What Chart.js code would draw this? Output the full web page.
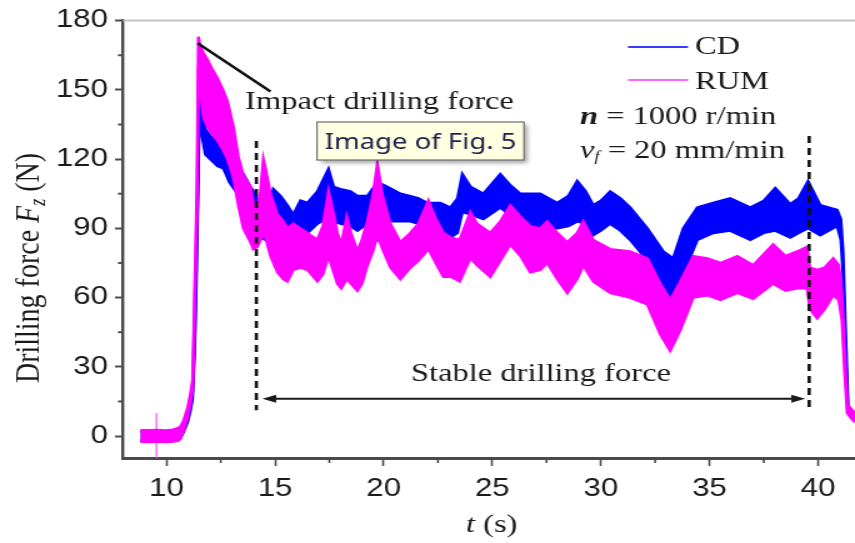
<!DOCTYPE html>
<html><head><meta charset="utf-8">
<script src="https://cdn.jsdelivr.net/npm/chart.js@4.4.0/dist/chart.umd.min.js"></script>
<style>
html,body{margin:0;padding:0;background:#fff;overflow:hidden;}
#wrap{width:684px;height:543px;transform:scaleX(1.25);transform-origin:0 0;}
</style></head><body>
<div id="wrap"><canvas id="c" width="684" height="543"></canvas></div>
<script>
// ---- data ----
const X_TICKS = [10, 15, 20, 25, 30, 35, 40];
const Y_TICKS = [0, 30, 60, 90, 120, 150, 180];
const X_MINOR = [12.5, 17.5, 22.5, 27.5, 32.5, 37.5];
const Y_MINOR = [15, 45, 75, 105, 135, 165];
const SERIES = ['CD', 'RUM'];

const RUM_t = [8.80,9.2,9.6,10.0,10.3,10.55,10.64,10.80,10.97,11.10,11.20,11.26,11.33,11.41,11.47,11.55,11.70,11.89,12.10,12.35,12.60,12.81,13.08,13.31,13.54,13.87,14.00,14.19,14.33,14.46,14.56,14.79,15.11,15.38,15.57,15.84,16.17,16.49,16.95,17.20,17.46,17.70,17.87,18.05,18.30,18.50,18.79,19.00,19.25,19.50,19.71,19.95,20.31,20.77,21.23,21.60,22.06,22.40,22.75,23.10,23.50,23.99,24.30,24.91,25.37,25.83,26.30,26.75,27.21,27.53,28.00,28.45,28.91,29.19,29.65,30.43,31.35,32.14,32.74,33.19,33.66,34.25,34.90,35.50,36.28,37.01,37.93,38.50,39.04,39.50,39.62,39.96,40.30,40.70,40.95,41.10,41.22,41.34,41.50,41.70];
const RUM_upper = [2.5,2.5,2.6,2.4,2.8,3.5,4,7,12,18,24,46,76,110,173,169,166,163,159,155,150,145,134,121,113,108,101,99,106,120,116,105,96,93,90,92,90,88,85,91,106,96,88,83,95,88,80,85,93,104,118,104,92,84,88,92,102,94,88,86,85,97,92,88,93,100,95,91,90,93,88,84,88,93,85,81,80,77,66,59,67,78,77,75,78,74,83,78,80,82,73,72,73,77,74,62,38,14,12,10];
const RUM_lower = [-2.5,-2.6,-2.4,-2.6,-2.4,-2,-1,3,8,14,20,40,70,100,160,150,138,134,131,128,124,120,112,100,90,84,81,82,85,88,86,78,71,68,67,72,73,72,67,70,78,71,66,64,68,66,63,66,74,80,87,81,73,68,73,76,81,75,69,69,67,77,74,69,76,83,78,71,72,75,68,62,68,74,67,62,60,57,44,37,46,60,61,59,62,59.5,66,63,64,64,55,51,55,61,59,50,28,10,8,6];

const CD_t = [8.80,9.2,9.6,10.0,10.3,10.55,10.64,10.80,10.97,11.10,11.20,11.30,11.37,11.45,11.52,11.60,11.79,12.02,12.35,12.62,12.90,13.27,13.54,13.87,14.14,14.33,14.56,14.79,14.92,15.25,15.57,15.84,16.17,16.49,16.95,17.46,17.70,18.01,18.47,18.79,19.25,19.71,20.17,20.77,21.23,21.60,22.01,22.61,23.07,23.40,23.62,24.00,24.59,25.37,25.80,26.29,27.21,27.99,28.50,28.91,29.30,29.65,30.00,30.43,30.90,31.35,32.14,32.87,33.33,33.79,34.44,35.17,35.95,36.88,37.50,38.03,38.72,39.10,39.54,40.10,40.88,41.05,41.15,41.25,41.38,41.45];
const CD_upper = [2,2,2,2,2.2,2.5,3,5,9,14,19,42,72,112,149,140,133,130,127,125,120,115,113.5,108,104,98,96,101,107,104,100,96,102,101,106,115.7,108,107,106,104,104,110,108,105,104,103,101,101,99,103,113.5,108,105,113.5,109,105,105,101,104,110.5,106,100,102,106,103,99,90,80,77,90,99,101,103,99,102,107.5,100.5,103,110.5,100,98,94,80,50,13,11];
const CD_lower = [-2,-2,-2,-2,-2,-1.5,-1,2,6,11,16,38,66,104,143,132,122,120,117,116,110,105,100,95,92,86,85,88,92,90,88,86,90,88,92,95,93,92,91,89,92,85,93,93,93,92,93,88,86,88,97,96,94,99,96,93,90,90,91,93,92,87,89,92,89,85,76,64,57,70,85,88,89,85,88,89,86,88,90,87,91,85,70,40,10,9];

const SPIKE_t = [9.54, 9.54];
const SPIKE_F = [10, -9.5];

const BLUE = '#0000ff', PINK = '#ff00ff';
const xy = (ts, vs) => ts.map((t, i) => ({x: t, y: vs[i]}));

const SERIF = '"Liberation Serif", "Times New Roman", serif';
const SANS = '"Liberation Sans", Arial, sans-serif';

function runs(ctx, parts, x, y, align) {
  let w = 0;
  parts.forEach(p => { ctx.font = p.f; p.w = ctx.measureText(p.t).width; w += p.w; });
  let cx = align === 'center' ? x - w / 2 : (align === 'right' ? x - w : x);
  ctx.textAlign = 'left'; ctx.textBaseline = 'alphabetic';
  parts.forEach(p => { ctx.font = p.f; ctx.fillText(p.t, cx, y + (p.dy || 0)); cx += p.w; });
  return w;
}

const annot = {
  id: 'annot',
  afterDatasetsDraw(chart) {
    const {ctx, scales: {x, y}} = chart;
    ctx.save();
    // dashed boundaries of the stable stage
    ctx.strokeStyle = '#111'; ctx.lineWidth = 2.6; ctx.setLineDash([7, 5]);
    [[14.14, 127.8, 11.2], [39.59, 130, 12.5]].forEach(([t, f1, f2]) => {
      ctx.beginPath(); ctx.moveTo(x.getPixelForValue(t), y.getPixelForValue(f1));
      ctx.lineTo(x.getPixelForValue(t), y.getPixelForValue(f2)); ctx.stroke();
    });
    ctx.setLineDash([]);
    // double arrow
    const ay = y.getPixelForValue(16.2), x1 = x.getPixelForValue(14.42), x2 = x.getPixelForValue(39.4);
    ctx.strokeStyle = '#1a1a1a'; ctx.fillStyle = '#1a1a1a'; ctx.lineWidth = 2;
    ctx.beginPath(); ctx.moveTo(x1 + 6, ay); ctx.lineTo(x2 - 6, ay); ctx.stroke();
    ctx.beginPath(); ctx.moveTo(x1, ay); ctx.lineTo(x1 + 11, ay - 4); ctx.lineTo(x1 + 11, ay + 4); ctx.closePath(); ctx.fill();
    ctx.beginPath(); ctx.moveTo(x2, ay); ctx.lineTo(x2 - 11, ay - 4); ctx.lineTo(x2 - 11, ay + 4); ctx.closePath(); ctx.fill();
    // impact pointer
    ctx.lineWidth = 2.4; ctx.strokeStyle = '#111';
    ctx.beginPath(); ctx.moveTo(x.getPixelForValue(11.44), y.getPixelForValue(170.2));
    ctx.lineTo(x.getPixelForValue(14.79), y.getPixelForValue(149.3)); ctx.stroke();
    ctx.restore();
  },
  afterDraw(chart) {
    const {ctx, chartArea: a, scales: {x, y}} = chart;
    ctx.save();
    // top frame line
    ctx.strokeStyle = '#c2c2c2'; ctx.lineWidth = 2;
    ctx.beginPath(); ctx.moveTo(a.left, a.top); ctx.lineTo(a.right, a.top); ctx.stroke();
    // minor ticks
    ctx.strokeStyle = '#4a4a4a'; ctx.lineWidth = 1.6;
    X_MINOR.forEach(v => { const px = x.getPixelForValue(v); ctx.beginPath(); ctx.moveTo(px, a.bottom); ctx.lineTo(px, a.bottom + 5); ctx.stroke(); });
    ctx.lineWidth = 2;
    Y_MINOR.forEach(v => { const py = y.getPixelForValue(v); ctx.beginPath(); ctx.moveTo(a.left, py); ctx.lineTo(a.left - 4, py); ctx.stroke(); });

    ctx.fillStyle = '#1a1a1a';
    const F = s => s + 'px ' + SERIF;
    // annotations
    runs(ctx, [{t: 'Impact drilling force', f: F(26)}], 196, 109);
    runs(ctx, [{t: 'Stable drilling force', f: F(26)}], 328.8, 381);
    // legend
    ctx.lineWidth = 2;
    ctx.strokeStyle = '#3a3aff'; ctx.beginPath(); ctx.moveTo(502.4, 47); ctx.lineTo(550.4, 47); ctx.stroke();
    ctx.strokeStyle = '#ff66ff'; ctx.beginPath(); ctx.moveTo(502.4, 80); ctx.lineTo(550.4, 80); ctx.stroke();
    runs(ctx, [{t: SERIES[0], f: F(26)}], 556, 54);
    runs(ctx, [{t: SERIES[1], f: F(26)}], 556, 89);
    // parameters
    runs(ctx, [{t: 'n', f: 'italic bold ' + F(26)}, {t: ' = 1000 r/min', f: F(26)}], 464, 124);
    runs(ctx, [{t: 'v', f: 'italic ' + F(26)}, {t: 'f', f: 'italic ' + F(15), dy: 3}, {t: ' = 20 mm/min', f: F(26)}], 464, 158);
    // axis titles
    runs(ctx, [{t: 't', f: 'italic ' + F(26)}, {t: ' (s)', f: F(26)}], 372.8, 532);
    ctx.save();
    ctx.translate(31, 268); ctx.rotate(-Math.PI / 2);
    runs(ctx, [{t: 'Drilling force ', f: F(28)}, {t: 'F', f: 'italic ' + F(28)}, {t: 'z', f: 'italic ' + F(18), dy: 5}, {t: ' (N)', f: F(28)}], 0, 0, 'center');
    ctx.restore();
    // tooltip box
    ctx.save();
    ctx.shadowColor = 'rgba(0,0,0,0.35)'; ctx.shadowBlur = 4; ctx.shadowOffsetX = 3; ctx.shadowOffsetY = 3;
    ctx.fillStyle = '#ffffe1'; ctx.fillRect(253.6, 122, 165.6, 38);
    ctx.restore();
    ctx.strokeStyle = '#6e6e6e'; ctx.lineWidth = 1.2; ctx.strokeRect(253.6, 122, 165.6, 38);
    ctx.fillStyle = '#22224a';
    runs(ctx, [{t: 'Image of Fig. 5', f: '22px "Noto Sans", "Open Sans", sans-serif'}], 336.4, 149, 'center');
    ctx.restore();
  }
};

const bandDs = (label, data, color, fill, order) => ({
  label, data, borderColor: color, backgroundColor: color, borderWidth: 2.4,
  pointRadius: 0, tension: 0, fill, order
});

new Chart(document.getElementById('c'), {
  type: 'line',
  data: {
    datasets: [
      bandDs('RUM', xy(RUM_t, RUM_upper), PINK, '+1', 0),
      bandDs('RUM lower', xy(RUM_t, RUM_lower), PINK, false, 1),
      bandDs('CD', xy(CD_t, CD_upper), BLUE, '+1', 2),
      bandDs('CD lower', xy(CD_t, CD_lower), BLUE, false, 3),
      {label: 'RUM spike', data: xy(SPIKE_t, SPIKE_F), borderColor: '#ff55ff', borderWidth: 1.3, pointRadius: 0, fill: false, order: 4}
    ]
  },
  options: {
    responsive: false, animation: false, devicePixelRatio: 1,
    layout: {padding: {top: 19, left: 0, right: 0, bottom: 0}},
    plugins: {legend: {display: false}, tooltip: {enabled: false}},
    scales: {
      x: {
        type: 'linear', min: 8, max: 41.7,
        afterBuildTicks: s => { s.ticks = X_TICKS.map(v => ({value: v})); },
        afterFit: s => { s.height = 85; },
        grid: {drawOnChartArea: false, drawTicks: true, tickLength: 8, tickColor: '#4a4a4a', tickWidth: 1.6},
        border: {display: true, color: '#4a4a4a', width: 3},
        ticks: {font: {family: SANS, size: 25}, color: '#1a1a1a', padding: 8, maxRotation: 0, autoSkip: false}
      },
      y: {
        type: 'linear', min: -9.5, max: 180,
        afterBuildTicks: s => { s.ticks = Y_TICKS.map(v => ({value: v})); },
        afterFit: s => { s.width = 98.4; },
        grid: {drawOnChartArea: false, drawTicks: true, tickLength: 6.4, tickColor: '#4a4a4a', tickWidth: 2},
        border: {display: true, color: '#4a4a4a', width: 2.4},
        ticks: {font: {family: SANS, size: 25}, color: '#1a1a1a', padding: 5.6, autoSkip: false}
      }
    }
  },
  plugins: [annot]
});
</script>
</body></html>
